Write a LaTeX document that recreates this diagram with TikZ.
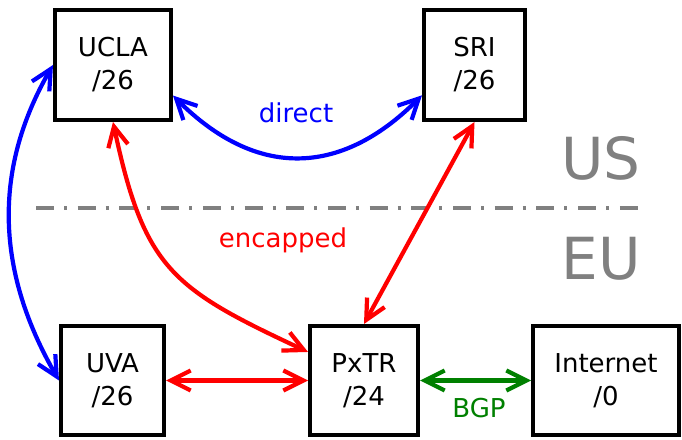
\documentclass[tikz,border=0pt]{standalone}
\usepackage{fontspec}
\setmainfont{DejaVu Sans}
\usetikzlibrary{arrows.meta}
\definecolor{bgpgreen}{RGB}{0,128,0}
\definecolor{sepgray}{RGB}{128,128,128}
\begin{document}
\begin{tikzpicture}[x=1pt,y=1pt,
  box/.style={draw=black, line width=4pt, align=center, inner sep=0pt,
    font=\fontsize{26}{33}\selectfont},
  conn/.style={line width=4.2pt,
    {Straight Barb[length=20pt,width=20pt]}-{Straight Barb[length=20pt,width=20pt]}},
  lbl/.style={font=\fontsize{26}{33}\selectfont, inner sep=0pt},
  region/.style={font=\fontsize{58}{60}\selectfont, text=sepgray, inner sep=0pt},
  sep/.style={draw=sepgray, line width=4pt, dash pattern=on 18pt off 10pt on 3pt off 10.7pt}]
\useasboundingbox (0,0) rectangle (682,439);
% separator
\coordinate (sepL) at (36,231);
\coordinate (sepR) at (642,231);
\draw[sep] (sepL) -- (sepR);
\node[region] (us) at (601,281) {US};
\node[region] (eu) at (601,180) {EU};
% nodes
\node[box, minimum width=116pt, minimum height=110pt] (ucla) at (113,374) {UCLA\\/26};
\node[box, minimum width=101pt, minimum height=110pt] (sri) at (474.5,374) {SRI\\/26};
\node[box, minimum width=103pt, minimum height=109pt] (uva) at (112.5,58.5) {UVA\\/26};
\node[box, minimum width=108pt, minimum height=109pt] (pxtr) at (364,58.5) {PxTR\\/24};
\node[box, minimum width=146pt, minimum height=109pt] (inet) at (606,58.5) {Internet\\/0};
% connectors
\draw[conn, blue] (ucla.west) to[out=240,in=120,looseness=1] (uva.west);
\draw[conn, blue] (ucla.-27) to[out=-45,in=225,looseness=1.2] (sri.210);
\draw[conn, red] (ucla.south) .. controls +(-78:150) and +(155:150) .. (pxtr.153);
\draw[conn, red] (sri.south) -- (pxtr.north);
\draw[conn, red] (uva.east) -- (pxtr.west);
\draw[conn, bgpgreen] (pxtr.east) -- (inet.west);
% labels
\node[lbl, text=blue] (direct) at (296,326) {direct};
\node[lbl, text=red] (encap) at (283,199) {encapped};
\node[lbl, text=bgpgreen] (bgp) at (479,31) {BGP};
\end{tikzpicture}
\end{document}
